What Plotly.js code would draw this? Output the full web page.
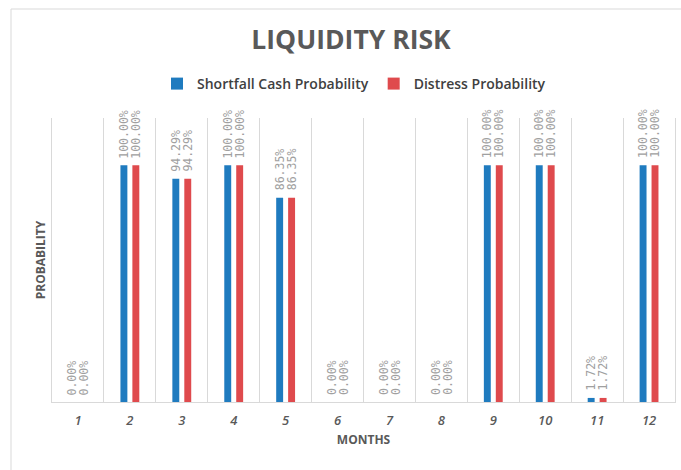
<!DOCTYPE html>
<html>
<head>
<meta charset="utf-8">
<script src="https://cdn.plot.ly/plotly-3.0.1.min.js"></script>
<style>
html,body{margin:0;padding:0;background:#fff;}
#chart{width:681px;height:470px;}
</style>
</head>
<body>
<div id="chart"></div>
<script>
const months = ['1','2','3','4','5','6','7','8','9','10','11','12'];
const shortfallCash = [0, 1, 0.9429, 1, 0.8635, 0, 0, 0, 1, 1, 0.0172, 1];
const distress = [0, 1, 0.9429, 1, 0.8635, 0, 0, 0, 1, 1, 0.0172, 1];
const seriesNames = ['Shortfall Cash Probability', 'Distress Probability'];
const seriesColors = ['#1f7bbf', '#df4a4d'];

const BARGAP = 0.54;
const labelFont = {family: 'DejaVu Sans Mono, monospace', size: 11.5, color: '#a0a0a0'};

function barTrace(name, values, color) {
  return {
    type: 'bar',
    name: name,
    x: months,
    y: values,
    marker: {color: color},
    hoverinfo: 'skip'
  };
}

const data = [
  barTrace(seriesNames[0], shortfallCash, seriesColors[0]),
  barTrace(seriesNames[1], distress, seriesColors[1])
];

// data labels as rotated annotations above each bar (offset within the group)
const slot = (1 - BARGAP) / 2;
const annotations = [];
[shortfallCash, distress].forEach(function(vals, s) {
  const off = (s - 0.5) * slot;
  vals.forEach(function(v, i) {
    annotations.push({
      xref: 'x', yref: 'y',
      x: i + off, y: v,
      text: (v * 100).toFixed(2) + '%',
      textangle: -90,
      showarrow: false,
      xanchor: 'center', yanchor: 'bottom',
      yshift: 5,
      font: labelFont
    });
  });
});

const L = 52, R = 6, T = 118, B = 68, W = 681, H = 470;
const pw = W - L - R, ph = H - T - B;
function px(x){ return (x - L) / pw; }
function py(y){ return (H - B - y) / ph; }

const layout = {
  width: W, height: H,
  margin: {l: L, r: R, t: T, b: B},
  paper_bgcolor: '#ffffff',
  plot_bgcolor: '#ffffff',
  showlegend: true,
  barmode: 'group',
  bargap: BARGAP,
  bargroupgap: 0.42,
  title: {
    text: '<b>LIQUIDITY RISK</b>',
    font: {family: 'Open Sans, sans-serif', size: 26.5, color: '#595959'},
    x: 351 / W, xref: 'container', xanchor: 'center',
    y: 1 - 40 / H, yref: 'container', yanchor: 'middle'
  },
  legend: {
    orientation: 'h',
    x: 354 / W, xanchor: 'center', xref: 'container',
    y: 1 - 84 / H, yanchor: 'middle', yref: 'container',
    font: {family: 'Open Sans, sans-serif', size: 14, color: '#404040', weight: 600},
    itemwidth: 30,
    tracegroupgap: 0
  },
  xaxis: {
    type: 'category',
    tickson: 'boundaries',
    showgrid: true,
    gridcolor: '#d9d9d9',
    gridwidth: 1,
    ticks: '',
    showline: true,
    linecolor: '#d9d9d9',
    linewidth: 1,
    tickfont: {family: 'Open Sans, sans-serif', size: 13, color: '#595959', style: 'italic', weight: 600},
    ticklabelstandoff: 6,
    title: {
      text: '<b>MONTHS</b>',
      font: {family: 'Open Sans, sans-serif', size: 12, color: '#595959'},
      standoff: 8
    },
    fixedrange: true
  },
  yaxis: {
    range: [0, 1.2],
    showgrid: false,
    zeroline: false,
    showticklabels: false,
    ticks: '',
    showline: true,
    mirror: true,
    linecolor: '#d9d9d9',
    linewidth: 1,
    title: {
      text: '<b>PROBABILITY</b>',
      font: {family: 'Open Sans, sans-serif', size: 12, color: '#595959'},
      standoff: 2
    },
    fixedrange: true
  },
  annotations: annotations,
  shapes: [{
    type: 'rect', xref: 'paper', yref: 'paper',
    x0: px(11), x1: px(700), y0: py(9), y1: py(490),
    line: {color: '#d9d9d9', width: 1},
    fillcolor: 'rgba(0,0,0,0)',
    layer: 'below'
  }]
};

Plotly.newPlot('chart', data, layout, {displayModeBar: false, staticPlot: true});
</script>
</body>
</html>
